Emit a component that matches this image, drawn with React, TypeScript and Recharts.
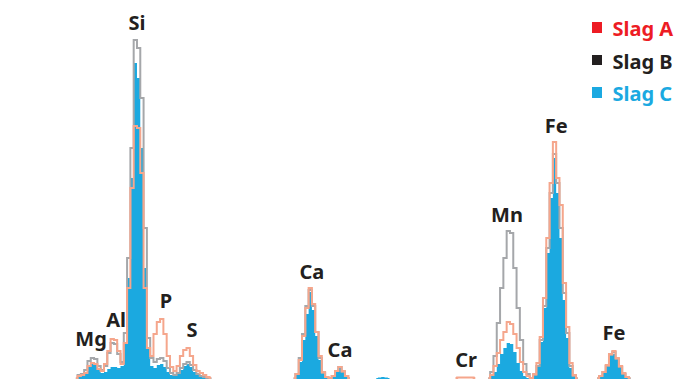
import React from 'react';
import { ComposedChart, Area, Line, XAxis, YAxis, ReferenceDot, Legend } from 'recharts';

// Spectrum regions (detector channel where each region starts)
const regionNames = ['Mg–S', 'Ca Kα/Kβ', 'minor', 'Cr', 'Mn–Fe Kα', 'Fe Kβ'];
const regionStart = [23, 89, 114, 138, 148, 181];

// Counts per channel (arbitrary units)
const slagA: (number | null)[][] = [
  [0, 2, 3, 5, 12, 15, 14, 9, 7, 14, 27, 39, 38, 27, 14, 35, 90, 190, 252, 250, 205, 90, 30, 22, 44, 56, 59, 44, 22, 11, 7, 12, 22, 28, 30, 22, 13, 7, 5, 3, 1, 0],
  [0, 4, 18, 42, 70, 90, 74, 46, 22, 6, 1, 0, 2, 7, 11, 7, 2, 0],
  [null, null, null, null, null],
  [0, 0.5, 0.5, 0.5, 0.5, 0.5, 0],
  [0, 3, 12, 25, 38, 46, 56, 54, 44, 30, 16, 6, 2, 0, 4, 15, 41, 80, 140, 195, 236, 200, 173, 95, 51, 15, 3, 0],
  [0, 2, 6, 13, 24, 27, 20, 12, 5, 1, 0],
];
const slagB: (number | null)[][] = [
  [0, 3, 4, 8, 17, 20, 19, 12, 8, 12, 25, 35, 34, 24, 16, 45, 120, 230, 338, 330, 280, 150, 40, 20, 16, 19, 20, 17, 10, 5, 3, 5, 10, 14, 16, 13, 8, 4, 2, 1, 0, 0],
  [0, 4, 20, 44, 72, 88, 72, 46, 20, 5, 1, 0, 2, 7, 11, 6, 2, 0],
  [null, null, null, null, null],
  [null, null, null, null, null, null, null],
  [0, 6, 22, 55, 90, 120, 147, 145, 110, 70, 38, 14, 4, 0, 3, 12, 38, 72, 130, 185, 224, 195, 150, 85, 45, 12, 2, 0],
  [0, 2, 6, 12, 23, 26, 19, 11, 4, 1, 0],
];
const slagC: (number | null)[][] = [
  [0, 2, 4, 6, 12, 14, 13, 8, 5, 6, 9, 11, 11, 10, 12, 35, 100, 200, 315, 300, 230, 110, 30, 12, 10, 13, 14, 11, 6, 3, 2, 4, 8, 12, 14, 11, 6, 3, 1, 0, 0, 0],
  [0, 3, 16, 38, 64, 86, 68, 42, 18, 4, 0, 0, 2, 6, 10, 6, 1, 0],
  [0, 0.5, 1, 0.5, 0],
  [null, null, null, null, null, null, null],
  [0, 2, 6, 14, 24, 30, 35, 34, 26, 15, 7, 2, 0, 0, 3, 12, 36, 70, 125, 180, 220, 185, 140, 78, 40, 10, 2, 0],
  [0, 1, 5, 11, 22, 24, 18, 10, 4, 1, 0],
];

const seriesNames = ['Slag A', 'Slag B', 'Slag C'];
const legendColors = ['#ed1c24', '#231f20', '#1ba9e1'];

// Element peak labels
const peakLabels = ['Mg', 'Al', 'Si', 'P', 'S', 'Ca', 'Ca', 'Cr', 'Mn', 'Fe', 'Fe'];
const peakChannel = [27.6, 35.2, 41.5, 50.3, 58.2, 94.5, 103, 141.2, 153.6, 168.5, 186];
const peakLabelLevel = [32, 51, 348, 70, 41, 99, 21, 11, 156, 245, 38];

const rows: { ch: number; a: number | null; b: number | null; c: number | null }[] = [];
regionStart.forEach((start, r) => {
  if (r > 0) rows.push({ ch: start - 0.5, a: null, b: null, c: null });
  slagA[r].forEach((_, i) => {
    rows.push({ ch: start + i, a: slagA[r][i], b: slagB[r][i], c: slagC[r][i] });
  });
});

const FONT = "'Noto Sans', 'DejaVu Sans', sans-serif";

const renderLegend = () => (
  <div style={{ position: 'relative', width: 84, height: 100 }}>
    {seriesNames.map((n, i) => (
      <React.Fragment key={n}>
        <div
          style={{
            position: 'absolute',
            left: 0,
            top: 3.3 + i * 32.5,
            width: 10,
            height: 10.5,
            background: legendColors[i],
          }}
        />
        <div
          style={{
            position: 'absolute',
            left: 21,
            top: i * 32.5,
            fontSize: 20,
            lineHeight: '20px',
            fontWeight: 700,
            color: legendColors[i],
            whiteSpace: 'nowrap',
            fontFamily: FONT,
          }}
        >
          {n}
        </div>
      </React.Fragment>
    ))}
  </div>
);

export default function App() {
  return (
    <div style={{ position: 'absolute', left: 0, top: 0, width: 675, height: 379, background: '#fff' }}>
      <ComposedChart
        width={675}
        height={379}
        data={rows}
        margin={{ top: 0, right: 0, bottom: 0, left: 0 }}
        style={{ fontFamily: FONT }}
      >
        <XAxis dataKey="ch" type="number" domain={[0, 204.5]} hide allowDataOverflow />
        <YAxis type="number" domain={[-1, 378]} hide allowDataOverflow />
        <Area
          name={seriesNames[2]}
          type="step"
          dataKey="c"
          fill="#1ba9e0"
          fillOpacity={1}
          stroke="none"
          baseValue={-1}
          connectNulls={false}
          dot={false}
          activeDot={false}
          isAnimationActive={false}
        />
        <Line
          name={seriesNames[1]}
          type="step"
          dataKey="b"
          stroke="#a5a7aa"
          strokeWidth={2}
          connectNulls={false}
          dot={false}
          activeDot={false}
          isAnimationActive={false}
        />
        <Line
          name={seriesNames[0]}
          type="step"
          dataKey="a"
          stroke="#f5a68c"
          strokeWidth={2}
          connectNulls={false}
          dot={false}
          activeDot={false}
          isAnimationActive={false}
        />
        {peakLabels.map((t, i) => (
          <ReferenceDot
            key={i}
            x={peakChannel[i]}
            y={peakLabelLevel[i]}
            r={0}
            fill="none"
            stroke="none"
            label={{
              value: t,
              position: 'top',
              offset: 0,
              fill: '#231f20',
              fontSize: 20,
              fontWeight: 700,
              fontFamily: FONT,
            }}
          />
        ))}
        <Legend
          layout="horizontal"
          verticalAlign="middle"
          align="center"
          content={renderLegend}
          wrapperStyle={{ left: 591.5, top: 19, width: 84, height: 100 }}
        />
      </ComposedChart>
    </div>
  );
}
